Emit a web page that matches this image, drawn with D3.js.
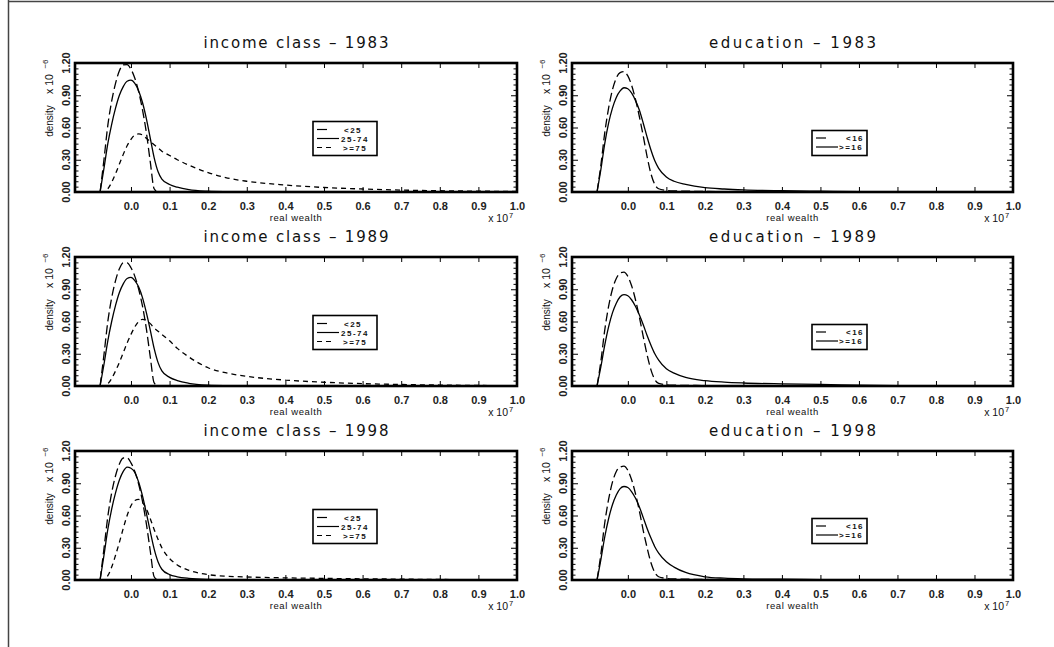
<!DOCTYPE html>
<html><head><meta charset="utf-8">
<script src="https://cdn.jsdelivr.net/npm/d3@7"></script>
<style>body{margin:0;background:#fff}svg{display:block}</style>
</head><body>
<script>
// real wealth grid (units of 10^7)
const wealth = [-0.08,-0.07,-0.06,-0.05,-0.04,-0.03,-0.02,-0.01,0,0.01,0.02,0.03,0.04,0.05,0.06,0.07,0.08,0.1,0.12,0.15,0.2,0.25,0.3,0.4,0.5,0.6,0.7,0.8,0.9,1.0];
// densities (units of 10^-6)
const inc1983_lt25 = [0,0.3,0.62,0.845,1.01,1.127,1.183,1.185,1.142,1.058,0.931,0.762,0.55,0.28,0.03,0,0,0,0,0,0,0,0,0,0,0,0,0,0,0];
const inc1983_mid  = [0,0.22,0.45,0.63,0.78,0.9,0.98,1.03,1.04,1.01,0.94,0.83,0.68,0.5,0.32,0.19,0.12,0.07,0.045,0.022,0.007,0.002,0,0,0,0,0,0,0,0];
const inc1983_ge75 = [0,0,0.03,0.09,0.17,0.26,0.35,0.43,0.49,0.53,0.54,0.53,0.5,0.47,0.44,0.41,0.38,0.34,0.3,0.25,0.18,0.13,0.1,0.065,0.042,0.028,0.018,0.012,0.008,0.005];
const inc1989_lt25 = [0,0.29,0.6,0.82,0.98,1.09,1.145,1.145,1.1,1.02,0.9,0.74,0.53,0.27,0.03,0,0,0,0,0,0,0,0,0,0,0,0,0,0,0];
const inc1989_mid  = [0,0.2,0.42,0.6,0.75,0.87,0.95,1.0,1.01,0.98,0.92,0.82,0.68,0.52,0.35,0.22,0.14,0.08,0.05,0.025,0.008,0.003,0.001,0,0,0,0,0,0,0];
const inc1989_ge75 = [0,0,0.02,0.07,0.14,0.22,0.31,0.4,0.48,0.55,0.6,0.62,0.61,0.58,0.54,0.51,0.48,0.42,0.35,0.27,0.17,0.12,0.09,0.055,0.035,0.022,0.014,0.009,0.005,0.003];
const inc1998_lt25 = [0,0.29,0.59,0.81,0.97,1.08,1.135,1.135,1.09,1.01,0.89,0.73,0.52,0.27,0.03,0,0,0,0,0,0,0,0,0,0,0,0,0,0,0];
const inc1998_mid  = [0,0.23,0.47,0.66,0.81,0.93,1.01,1.05,1.04,1.0,0.91,0.78,0.62,0.45,0.29,0.17,0.1,0.05,0.03,0.015,0.005,0.002,0,0,0,0,0,0,0,0];
const inc1998_ge75 = [0,0,0.04,0.12,0.23,0.35,0.48,0.6,0.69,0.74,0.75,0.72,0.66,0.57,0.47,0.38,0.3,0.2,0.14,0.09,0.05,0.035,0.028,0.02,0.015,0.011,0.008,0.005,0.003,0.002];
const edu1983_lt16 = [0,0.25,0.55,0.78,0.95,1.06,1.11,1.12,1.08,0.99,0.86,0.7,0.52,0.33,0.17,0.07,0.03,0.015,0.01,0.008,0.005,0.003,0.002,0.001,0,0,0,0,0,0];
const edu1983_ge16 = [0,0.21,0.45,0.64,0.78,0.88,0.94,0.97,0.96,0.92,0.85,0.76,0.64,0.51,0.39,0.29,0.22,0.14,0.1,0.07,0.04,0.028,0.02,0.012,0.007,0.004,0.002,0.001,0,0];
const edu1989_lt16 = [0,0.23,0.52,0.74,0.9,1.0,1.05,1.06,1.02,0.93,0.8,0.64,0.46,0.29,0.15,0.06,0.025,0.012,0.008,0.006,0.004,0.003,0.002,0.001,0,0,0,0,0,0];
const edu1989_ge16 = [0,0.18,0.38,0.55,0.68,0.77,0.83,0.85,0.84,0.8,0.74,0.66,0.57,0.47,0.38,0.3,0.24,0.16,0.12,0.08,0.05,0.036,0.028,0.02,0.015,0.007,0.003,0.001,0,0];
const edu1998_lt16 = [0,0.24,0.53,0.75,0.91,1.01,1.05,1.06,1.02,0.93,0.8,0.64,0.46,0.3,0.16,0.07,0.03,0.015,0.01,0.008,0.005,0.003,0.002,0.001,0,0,0,0,0,0];
const edu1998_ge16 = [0,0.19,0.4,0.57,0.7,0.79,0.85,0.87,0.86,0.82,0.76,0.68,0.58,0.48,0.39,0.31,0.25,0.17,0.12,0.07,0.03,0.017,0.011,0.007,0.004,0.002,0.001,0,0,0];

const years = ["1983","1989","1998"];
const incomeLabels = ["<25","25-74",">=75"];
const eduLabels = ["<16",">=16"];
const xTicks = [0.0,0.1,0.2,0.3,0.4,0.5,0.6,0.7,0.8,0.9,1.0];
const yTicks = [0.00,0.30,0.60,0.90,1.20];
const yMinorTicks = [0.05,0.1,0.15,0.2,0.25,0.35,0.4,0.45,0.5,0.55,0.65,0.7,0.75,0.8,0.85,0.95,1.0,1.05,1.1,1.15];

const incomeSeries = [[inc1983_lt25,inc1983_mid,inc1983_ge75],[inc1989_lt25,inc1989_mid,inc1989_ge75],[inc1998_lt25,inc1998_mid,inc1998_ge75]];
const eduSeries = [[edu1983_lt16,edu1983_ge16],[edu1989_lt16,edu1989_ge16],[edu1998_lt16,edu1998_ge16]];

const W = 1054, H = 647;
const cols = [{L:75,R:517},{L:572,R:1013}];
const rowTops = [63, 257, 451];
const plotH = 129;
const dashStyles = {"long":"9,4","solid":null,"short":"5,4"};
const incStyles = ["long","solid","short"];
const eduStyles = ["long","solid"];

const svg = d3.select("body").append("svg").attr("width",W).attr("height",H);
svg.append("line").attr("x1",8.5).attr("x2",8.5).attr("y1",0).attr("y2",H).attr("stroke","#444").attr("stroke-width",1.5);
svg.append("line").attr("x1",8).attr("x2",W).attr("y1",1.5).attr("y2",1.5).attr("stroke","#444").attr("stroke-width",1.5);

const FONT = "'Liberation Sans', Arial, sans-serif";
let clipId = 0;

function panel(col, row, title, series, labels, styles, legend) {
  const {L,R} = cols[col];
  const T = rowTops[row], B = T + plotH;
  const x = d3.scaleLinear().domain([-0.145,1.0]).range([L,R]);
  const y = d3.scaleLinear().domain([0,1.2]).range([B,T]);
  const g = svg.append("g");

  // title
  g.append("text").attr("x",(L+R)/2).attr("y",T-15).attr("text-anchor","middle")
    .attr("font-family","'DejaVu Sans', sans-serif").attr("font-size",15).attr("fill","#111")
    .attr("textLength", col===0?185:167).attr("lengthAdjust","spacing").text(title);

  // curves
  const cid = "clip"+(clipId++);
  g.append("clipPath").attr("id",cid).append("rect").attr("x",L).attr("y",T-2).attr("width",R-L).attr("height",plotH+2);
  const line = d3.line().x((d,i)=>x(wealth[i])).y(d=>y(d)).curve(d3.curveMonotoneX);
  series.forEach((s,k)=>{
    g.append("path").attr("d",line(s)).attr("fill","none").attr("stroke","#000")
      .attr("stroke-width",1.3).attr("clip-path",`url(#${cid})`)
      .attr("stroke-dasharray",dashStyles[styles[k]]);
  });

  // axes ticks
  const ax = g.append("g");
  const bottom = ax.append("g").attr("transform",`translate(0,${B})`)
    .call(d3.axisBottom(x).tickValues(xTicks).tickSize(-5).tickPadding(10).tickFormat(d3.format(".1f")));
  ax.append("g").attr("transform",`translate(0,${T})`)
    .call(d3.axisTop(x).tickValues(xTicks).tickSize(-5).tickFormat(""));
  ax.append("g").attr("transform",`translate(${L},0)`)
    .call(d3.axisLeft(y).tickValues(yTicks).tickSize(-6).tickFormat(""));
  ax.append("g").attr("transform",`translate(${L},0)`)
    .call(d3.axisLeft(y).tickValues(yMinorTicks).tickSize(-3.5).tickFormat(""));
  ax.append("g").attr("transform",`translate(${R},0)`)
    .call(d3.axisRight(y).tickValues(yTicks).tickSize(-6).tickFormat(""));
  ax.append("g").attr("transform",`translate(${R},0)`)
    .call(d3.axisRight(y).tickValues(yMinorTicks).tickSize(-3.5).tickFormat(""));
  ax.selectAll(".domain").remove();
  ax.selectAll(".tick line").attr("stroke","#000").attr("stroke-width",1);
  bottom.selectAll("text").attr("font-size",11).attr("font-weight","bold").attr("fill","#222").attr("font-family",FONT);

  // y tick labels rotated
  yTicks.forEach(v=>{
    g.append("text").attr("transform",`translate(${L-5},${y(v)}) rotate(-90)`)
      .attr("text-anchor","middle").attr("font-family",FONT).attr("font-size",11).attr("font-weight","bold").attr("fill","#222")
      .text(d3.format(".2f")(v));
  });
  // y axis title
  g.append("text").attr("transform",`translate(${L-22},${T+58}) rotate(-90)`).attr("text-anchor","middle")
    .attr("font-family",FONT).attr("font-size",10).attr("fill","#111").text("density");
  g.append("text").attr("transform",`translate(${L-22},${T+21}) rotate(-90)`).attr("text-anchor","middle")
    .attr("font-family",FONT).attr("font-size",10.5).attr("fill","#111").text("x 10");
  g.append("text").attr("transform",`translate(${L-27},${T+1}) rotate(-90)`).attr("text-anchor","middle")
    .attr("font-family",FONT).attr("font-size",8).attr("fill","#111").text("\u22126");

  // x axis title
  g.append("text").attr("x",(L+R)/2).attr("y",B+29).attr("text-anchor","middle")
    .attr("font-family",FONT).attr("font-size",9.5).attr("fill","#111").attr("letter-spacing",0.6).text("real wealth");
  g.append("text").attr("x",R-9).attr("y",B+30).attr("text-anchor","end")
    .attr("font-family",FONT).attr("font-size",10.5).attr("fill","#111").text("x 10");
  g.append("text").attr("x",R-8).attr("y",B+25.5).attr("text-anchor","start")
    .attr("font-family",FONT).attr("font-size",7.5).attr("fill","#111").text("7");

  // frame
  g.append("rect").attr("x",L).attr("y",T).attr("width",R-L).attr("height",plotH)
    .attr("fill","none").attr("stroke","#000").attr("stroke-width",2.6);

  // legend
  const lg = g.append("g");
  lg.append("rect").attr("x",legend.x0).attr("y",T+legend.y0).attr("width",legend.w).attr("height",legend.h)
    .attr("fill","#fff").attr("stroke","#000").attr("stroke-width",1.6);
  labels.forEach((lab,k)=>{
    const yy = T + legend.rows[k];
    const st = styles[k];
    const x1 = legend.x0+4, x2 = st==="long" ? legend.x0+14 : (st==="short" ? legend.x0+20 : legend.x0+26);
    lg.append("line").attr("x1",x1).attr("x2",x2).attr("y1",yy).attr("y2",yy)
      .attr("stroke","#000").attr("stroke-width",1.2).attr("stroke-dasharray", st==="short" ? "5,4" : null);
    lg.append("text").attr("x",legend.tx[k]).attr("y",yy+3).attr("font-family",FONT).attr("font-size",8)
      .attr("font-weight","bold").attr("letter-spacing",1.5).attr("fill","#111").text(lab);
  });
}

const incLegend = {x0:313,y0:58.5,w:64,h:34,rows:[66.5,75.5,84.5],tx:[344,341,343]};
const eduLegend = {x0:812,y0:67.5,w:55,h:25,rows:[75,84],tx:[846,839]};

years.forEach((yr,r)=>{
  panel(0,r,`income class \u2013 ${yr}`,incomeSeries[r],incomeLabels,incStyles,incLegend);
  panel(1,r,`education \u2013 ${yr}`,eduSeries[r],eduLabels,eduStyles,eduLegend);
});
</script>
</body></html>
